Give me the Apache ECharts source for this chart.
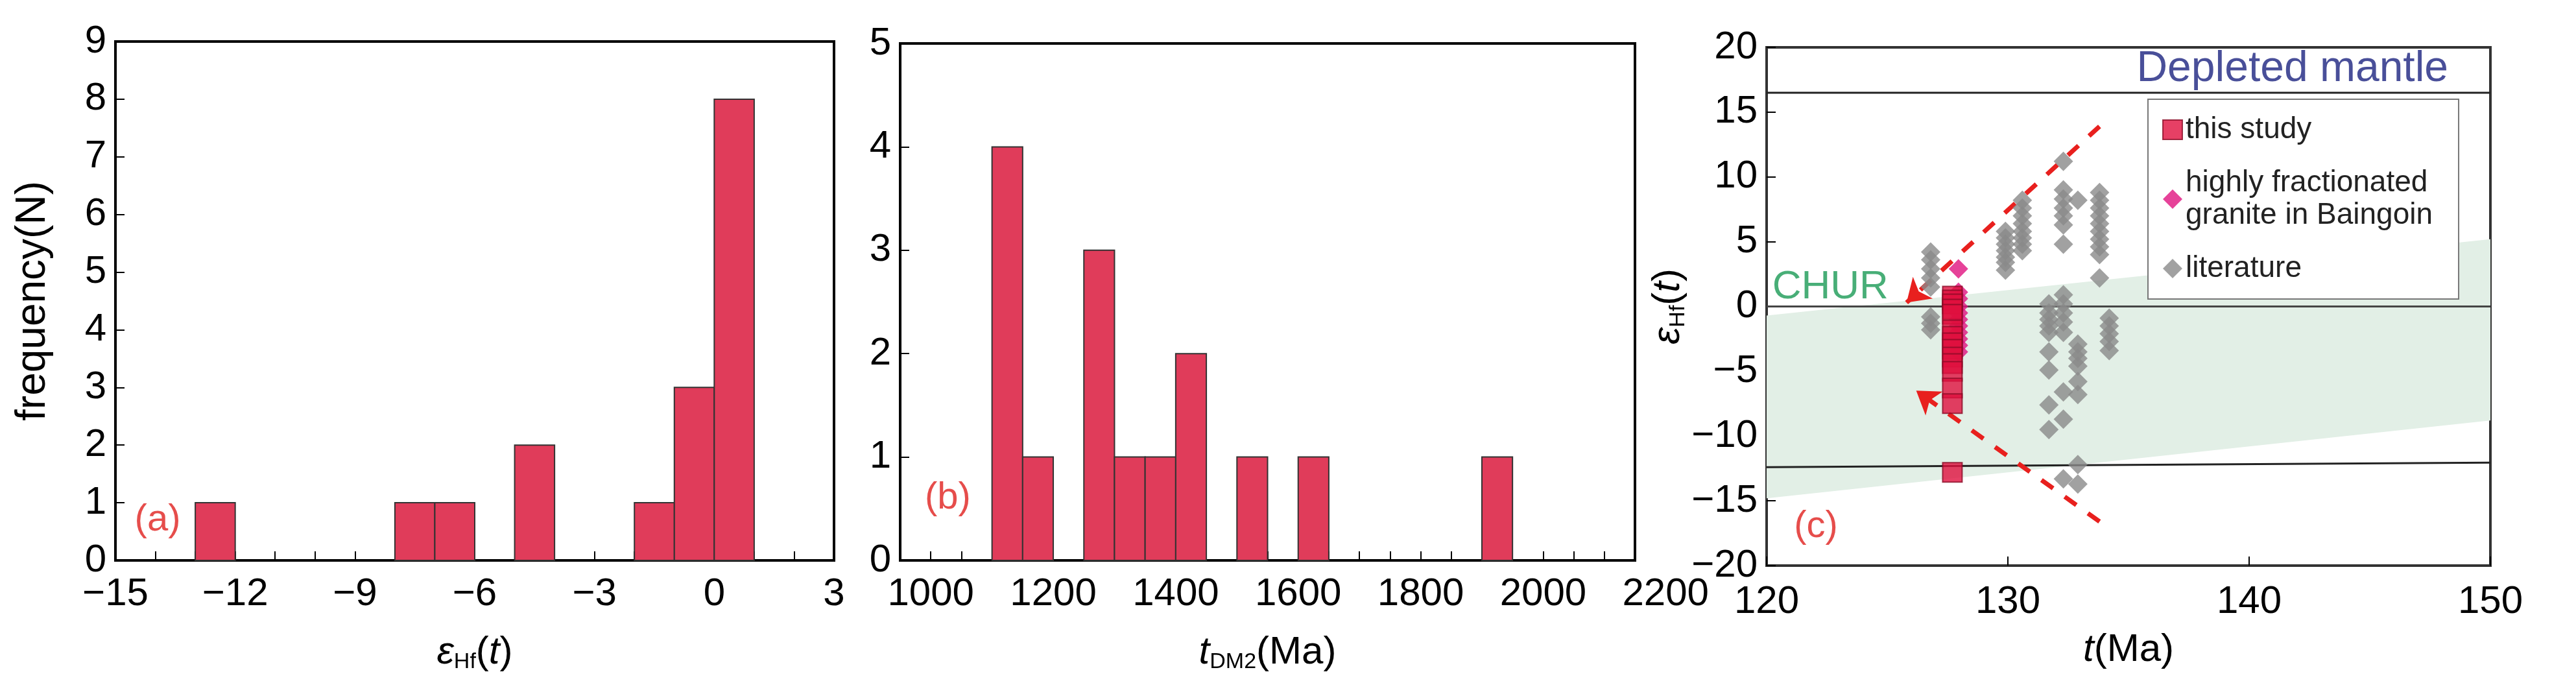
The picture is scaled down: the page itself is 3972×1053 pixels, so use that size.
<!DOCTYPE html>
<html><head><meta charset="utf-8">
<script src="https://cdn.jsdelivr.net/npm/echarts@6/dist/echarts.min.js"></script>
<style>html,body{margin:0;padding:0;background:#fff}#c{width:3972px;height:1053px}</style>
</head><body><div id="c"></div>
<script>
// (a) epsilon Hf(t) histogram bins [from, to, count]
const binsA = [[-13,-12,1],[-8,-7,1],[-7,-6,1],[-5,-4,2],[-2,-1,1],[-1,0,3],[0,1,8]];
// (b) tDM2 histogram bins [from, to, count]
const binsB = [[1100,1150,4],[1150,1200,1],[1250,1300,3],[1300,1350,1],[1350,1400,1],[1400,1450,2],[1500,1550,1],[1600,1650,1],[1900,1950,1]];
const ticksB = [1000,1200,1400,1600,1800,2000,2200];
// (c) scatter
const thisStudyT = 127.7;
const thisStudyE = [0.8,0.5,0.2,-0.2,-0.6,-1.8,-2.3,-2.8,-3.3,-3.9,-4.4,-5.0,-6.3,-7.5,-12.8];
const baingoinT = 127.95;
const baingoinE = [2.9,1.1,0.6,0,-0.5,-1,-1.5,-2,-2.5,-3,-3.5];
const litCols = [
  [126.8,[4.2,3.6,2.9,2.2,1.5,-0.8,-1.3,-1.8]],
  [129.9,[5.8,5.3,4.8,4.3,3.8,3.4,2.8]],
  [130.6,[8.2,7.6,7,6.4,5.8,5.3,4.8,4.3]],
  [131.7,[0.2,-0.5,-1,-1.5,-2,-3.5,-4.9,-7.6,-9.5]],
  [132.3,[11.2,9,8.3,7.6,7,6.3,4.8,0.9,0.2,-0.5,-1.2,-2,-6.6,-8.7,-13.3]],
  [132.9,[8.2,-2.9,-3.5,-4,-4.6,-5.8,-6.8,-12.2,-13.7]],
  [133.8,[8.8,8.2,7.6,7,6.4,5.8,5.2,4.6,4,2.2]],
  [134.2,[-0.9,-1.5,-2.1,-2.7,-3.4]]
];
const depletedMantle = [[120,16.5],[150,16.5]];
const churLine = [[120,0],[150,0]];
const lowerLine = [[120,-12.4],[150,-12.05]];
const band = [[120,-0.7],[150,5.2],[150,-8.8],[120,-14.8]];
const arrowUp = [[133.8,13.9],[125.8,0.3]];
const arrowDown = [[133.8,-16.6],[126.2,-6.5]];

const FONT = 'Liberation Sans';
const barColor = '#e03c5a';
const chart = echarts.init(document.getElementById('c'));

function histSeries(bins, xi){
  return {type:'custom', xAxisIndex:xi, yAxisIndex:xi, data:bins,
    renderItem:(p,api)=>{
      const a=api.coord([api.value(0),api.value(2)]), b=api.coord([api.value(1),0]);
      return {type:'rect', shape:{x:a[0],y:a[1],width:b[0]-a[0],height:b[1]-a[1]},
        style:{fill:barColor, stroke:'#333', lineWidth:2}};
    }, z:3};
}
const tickStyle = {inside:true, length:14, lineStyle:{color:'#000',width:2}};
const axLab = {color:'#000', fontFamily:FONT, fontSize:60, margin:22};
const rich = {
  i:{fontFamily:FONT,fontSize:60,fontStyle:'italic',color:'#000'},
  n:{fontFamily:FONT,fontSize:60,color:'#000'},
  s:{fontFamily:FONT,fontSize:34,color:'#000',padding:[30,0,0,0]}
};
const litData = [];
litCols.forEach(c=>c[1].forEach(v=>litData.push([c[0],v])));
const line = (c)=>({onZero:false, lineStyle:{color:c,width:4}});

const option = {
  animation:false,
  grid:[
    {left:178, right:3972-1286, top:64, bottom:189, show:true, borderColor:'#000', borderWidth:4},
    {left:1388, right:3972-2521, top:67, bottom:189, show:true, borderColor:'#000', borderWidth:4},
    {left:2724, right:3972-3840, top:73, bottom:181, show:true, borderColor:'#333', borderWidth:4}
  ],
  xAxis:[
    {gridIndex:0, type:'value', min:-15, max:3, interval:1,
      axisLine:line('#000'), axisTick:tickStyle, splitLine:{show:false},
      axisLabel:Object.assign({},axLab,{formatter:v=>v%3===0?(v<0?'\u2212'+(-v):String(v)):'' ,showMinLabel:true,showMaxLabel:true}),
      name:'{i|ε}{s|Hf}{n|(}{i|t}{n|)}', nameLocation:'middle', nameGap:110, nameTextStyle:{rich}},
    {gridIndex:1, type:'value', min:950, max:2150, interval:50,
      axisLine:line('#000'), axisTick:tickStyle, splitLine:{show:false},
      axisLabel:Object.assign({},axLab,{formatter:v=>ticksB.includes(v)?String(v):''}),
      name:'{i|t}{s|DM2}{n|(Ma)}', nameLocation:'middle', nameGap:110, nameTextStyle:{rich}},
    {gridIndex:2, type:'value', min:120, max:150, interval:10,
      axisLine:line('#333'), axisTick:tickStyle, splitLine:{show:false},
      axisLabel:Object.assign({},axLab,{margin:26}),
      name:'{i|t}{n|(Ma)}', nameLocation:'middle', nameGap:100, nameTextStyle:{rich}}
  ],
  yAxis:[
    {gridIndex:0, type:'value', min:0, max:9, interval:1,
      axisLine:line('#000'), axisTick:tickStyle, splitLine:{show:false},
      axisLabel:Object.assign({},axLab,{margin:14}),
      name:'frequency(N)', nameLocation:'middle', nameGap:95, nameTextStyle:{fontFamily:FONT,fontSize:64,color:'#000'}},
    {gridIndex:1, type:'value', min:0, max:5, interval:1,
      axisLine:line('#000'), axisTick:tickStyle, splitLine:{show:false},
      axisLabel:Object.assign({},axLab,{margin:14})},
    {gridIndex:2, type:'value', min:-20, max:20, interval:5,
      axisLine:line('#333'), axisTick:tickStyle, splitLine:{show:false},
      axisLabel:Object.assign({},axLab,{margin:14,formatter:v=>v<0?'\u2212'+(-v):String(v)}),
      name:'{i|ε}{s|Hf}{n|(}{i|t}{n|)}', nameLocation:'middle', nameGap:110, nameRotate:90, nameTextStyle:{rich}}
  ],
  legend:{
    left:3312, top:153, width:500, orient:'vertical', padding:[22,40,22,22],
    borderColor:'#777', borderWidth:2, backgroundColor:'#fff', itemGap:32, itemWidth:30, itemHeight:30,
    textStyle:{fontFamily:FONT,fontSize:46,color:'#222',lineHeight:50},
    data:[{name:'this study',icon:'rect'},{name:'highly fractionated\ngranite in Baingoin',icon:'diamond'},{name:'literature',icon:'diamond'}]
  },
  series:[
    histSeries(binsA,0),
    histSeries(binsB,1),
    {type:'custom', xAxisIndex:2, yAxisIndex:2, data:[0], silent:true, z:1,
      renderItem:(p,api)=>({type:'polygon', shape:{points:band.map(pt=>api.coord(pt))}, style:{fill:'#e2efe6'}})},
    {type:'line', xAxisIndex:2, yAxisIndex:2, data:depletedMantle, symbol:'none', lineStyle:{color:'#222',width:3}, z:2},
    {type:'line', xAxisIndex:2, yAxisIndex:2, data:churLine, symbol:'none', lineStyle:{color:'#444',width:3}, z:2},
    {type:'line', xAxisIndex:2, yAxisIndex:2, data:lowerLine, symbol:'none', lineStyle:{color:'#222',width:3}, z:2},
    {type:'lines', coordinateSystem:'cartesian2d', xAxisIndex:2, yAxisIndex:2, z:3,
      symbol:['none','arrow'], symbolSize:34,
      lineStyle:{color:'#e8201e',width:7,type:[22,22],opacity:1},
      data:[{coords:arrowUp},{coords:arrowDown}]},
    {name:'literature', type:'scatter', xAxisIndex:2, yAxisIndex:2, symbol:'diamond', symbolSize:30,
      itemStyle:{color:'#8a8a8a'}, data:litData, z:4},
    {name:'highly fractionated\ngranite in Baingoin', type:'scatter', xAxisIndex:2, yAxisIndex:2, symbol:'diamond', symbolSize:30,
      itemStyle:{color:'#e0137f'}, data:baingoinE.map(v=>[baingoinT,v]), z:4},
    {name:'this study', type:'scatter', xAxisIndex:2, yAxisIndex:2, symbol:'rect', symbolSize:30,
      itemStyle:{color:'#e0103f',borderColor:'#8a0a25',borderWidth:2}, data:thisStudyE.map(v=>[thisStudyT,v]), z:5},
    // annotations
    {type:'scatter', xAxisIndex:0, yAxisIndex:0, symbolSize:0, silent:true, data:[[-14.6,0.7]],
      label:{show:true,position:'right',formatter:'(a)',color:'#e0201e',fontFamily:FONT,fontSize:58}},
    {type:'scatter', xAxisIndex:1, yAxisIndex:1, symbolSize:0, silent:true, data:[[985,0.6]],
      label:{show:true,position:'right',formatter:'(b)',color:'#e0201e',fontFamily:FONT,fontSize:58}},
    {type:'scatter', xAxisIndex:2, yAxisIndex:2, symbolSize:0, silent:true, data:[[121,-17]],
      label:{show:true,position:'right',formatter:'(c)',color:'#e0201e',fontFamily:FONT,fontSize:58}},
    {type:'scatter', xAxisIndex:2, yAxisIndex:2, symbolSize:0, silent:true, data:[[120.1,1.5]],
      label:{show:true,position:'right',formatter:'CHUR',color:'#1a9a55',fontFamily:FONT,fontSize:62}},
    {type:'scatter', xAxisIndex:2, yAxisIndex:2, symbolSize:0, silent:true, data:[[135.2,18.3]],
      label:{show:true,position:'right',formatter:'Depleted mantle',color:'#1c2380',fontFamily:FONT,fontSize:66}}
  ]
};
chart.setOption(option);
const p = chart.convertToPixel({xAxisIndex:1}, 2200);
const py = chart.convertToPixel({yAxisIndex:1}, 0);
chart.setOption({graphic:[{type:'text', x:p, y:py+22, style:{text:'2200', fontFamily:FONT, fontSize:60, fill:'#000', align:'center', verticalAlign:'top'}}]});
</script></body></html>
